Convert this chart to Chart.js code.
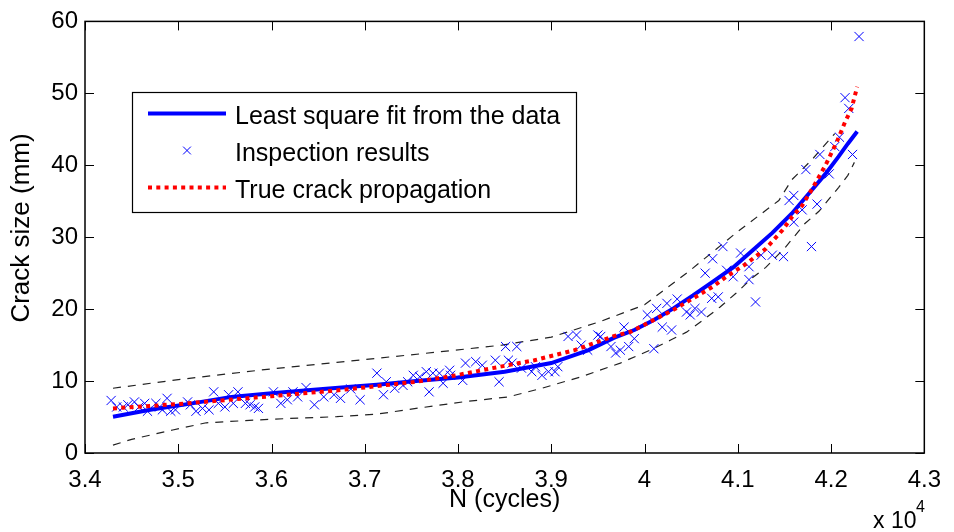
<!DOCTYPE html>
<html>
<head>
<meta charset="utf-8">
<title>Crack size vs cycles</title>
<script src="https://cdn.jsdelivr.net/npm/chart.js@4.4.0/dist/chart.umd.min.js"></script>
<style>
  html, body { margin: 0; padding: 0; background: #fff; }
</style>
</head>
<body>
<canvas id="crackChart" width="954" height="532"></canvas>
<script>
// N is given in units of 10^4 cycles, crack size in mm
const xTickValues = [3.4, 3.5, 3.6, 3.7, 3.8, 3.9, 4.0, 4.1, 4.2, 4.3];
const yTickValues = [0, 10, 20, 30, 40, 50, 60];

// least square fit
const fitN = [3.43, 3.47, 3.515, 3.557, 3.6, 3.642, 3.685, 3.713, 3.755, 3.8, 3.85, 3.9, 3.94, 3.967, 3.989,
              4.01, 4.031, 4.052, 4.073, 4.095, 4.116, 4.137, 4.158, 4.179, 4.194, 4.208, 4.218, 4.228];
const fitA = [5.05, 6.0, 6.9, 7.8, 8.3, 8.75, 9.2, 9.5, 10.0, 10.5, 11.3, 12.5, 14.3, 16.0, 17.1,
              18.5, 20.1, 21.9, 23.8, 25.8, 28.2, 30.6, 33.3, 36.5, 38.8, 41.2, 43.0, 44.7];

// true crack propagation
const trueN = [3.43, 3.5, 3.6, 3.674, 3.713, 3.755, 3.798, 3.837, 3.882, 3.925, 3.967, 3.985, 4.013, 4.031,
               4.052, 4.073, 4.0875, 4.109, 4.13, 4.148, 4.158, 4.169, 4.181, 4.194, 4.206, 4.215, 4.222, 4.228];
const trueA = [6.2, 6.8, 7.9, 8.75, 9.3, 9.9, 10.8, 11.8, 12.9, 14.3, 16.25, 16.85, 18.7, 19.9,
               21.5, 23.1, 24.5, 26.3, 28.4, 31.0, 32.8, 34.4, 37.0, 40.0, 43.2, 46.0, 47.9, 50.9];

// bounds (dashed)
const upperN = [3.43, 3.5, 3.6, 3.67, 3.776, 3.847, 3.9, 3.953, 4.0, 4.05, 4.1, 4.144, 4.158, 4.179, 4.204];
const upperA = [9.0, 10.2, 11.7, 12.6, 14.0, 15.0, 16.1, 18.3, 20.6, 25.5, 30.8, 35.1, 38.0, 40.7, 44.4];
const lowerN = [3.43, 3.45, 3.494, 3.53, 3.6, 3.67, 3.713, 3.755, 3.805, 3.854, 3.89, 3.932, 3.974, 4.006,
                4.028, 4.045, 4.063, 4.081, 4.098, 4.116, 4.13, 4.151, 4.172, 4.187, 4.208, 4.218, 4.225];
const lowerA = [1.1, 1.9, 3.2, 4.2, 4.7, 5.05, 5.4, 6.2, 7.1, 7.8, 9.0, 10.6, 12.5, 14.3,
                15.7, 16.8, 18.5, 20.3, 22.2, 24.4, 25.8, 28.6, 31.9, 33.6, 36.9, 38.6, 40.4];

// inspection results
const inspN = [3.428, 3.434, 3.441, 3.446, 3.453, 3.458, 3.464, 3.467, 3.476, 3.480, 3.483, 3.488, 3.492, 3.497,
               3.510, 3.513, 3.519, 3.526, 3.533, 3.538, 3.543, 3.550, 3.554, 3.559, 3.564, 3.572, 3.577, 3.582,
               3.586, 3.602, 3.610, 3.617, 3.623, 3.628, 3.637, 3.646, 3.656, 3.667, 3.674, 3.685, 3.695, 3.713,
               3.720, 3.723, 3.732, 3.741, 3.746, 3.752, 3.759, 3.766, 3.769, 3.773, 3.780, 3.784, 3.791, 3.792,
               3.805, 3.808, 3.819, 3.826, 3.840, 3.844, 3.851, 3.854, 3.858, 3.863, 3.868, 3.879, 3.883, 3.890,
               3.897, 3.904, 3.907, 3.918, 3.927, 3.932, 3.939, 3.950, 3.953, 3.964, 3.969, 3.974, 3.978, 3.983,
               3.989, 4.003, 4.010, 4.013, 4.019, 4.024, 4.029, 4.035, 4.045, 4.049, 4.054, 4.061, 4.065, 4.072,
               4.073, 4.079, 4.084, 4.088, 4.095, 4.103, 4.112, 4.112, 4.119, 4.125, 4.137, 4.149, 4.155, 4.160,
               4.169, 4.160, 4.179, 4.185, 4.230, 4.215, 4.219, 4.209, 4.204, 4.188, 4.223, 4.173, 4.198];
const inspA = [7.3, 6.4, 6.4, 6.7, 7.1, 6.4, 6.9, 5.8, 6.9, 6.4, 6.0, 7.6, 5.8, 6.0,
               7.1, 6.7, 5.8, 6.2, 6.0, 8.5, 6.9, 6.4, 8.1, 6.9, 8.5, 6.9, 6.7, 6.4,
               6.2, 8.5, 6.9, 7.4, 8.5, 7.8, 9.1, 6.7, 7.8, 8.1, 7.6, 8.9, 7.4, 11.1,
               8.1, 9.9, 9.0, 9.4, 9.9, 10.8, 10.6, 11.3, 8.5, 11.1, 11.1, 9.7, 11.5, 10.8,
               10.1, 12.5, 12.7, 12.2, 12.9, 9.9, 14.8, 12.9, 12.5, 14.8, 11.8, 11.3, 12.0, 10.8,
               11.3, 11.3, 12.0, 16.2, 16.4, 15.0, 14.3, 16.4, 16.2, 14.8, 13.9, 14.3, 17.5, 14.8,
               15.9, 19.2, 14.5, 20.1, 17.5, 20.8, 17.1, 21.4, 19.6, 19.2, 20.1, 19.6, 25.0, 21.5,
               27.0, 21.7, 28.7, 25.4, 24.5, 27.8, 24.1, 25.9, 21.0, 27.5, 27.5, 27.3, 35.1, 35.8,
               33.8, 32.1, 28.7, 34.6, 57.9, 49.4, 47.9, 43.9, 42.6, 41.5, 41.5, 39.4, 38.8];

const FONT = '"Liberation Sans", Arial, Helvetica, sans-serif';

const toPoints = (xs, ys) => xs.map((x, i) => ({ x: x, y: ys[i] }));

// axes box with inward ticks, legend box, y title and the "x 10^4" exponent
const matlabFrame = {
    id: 'matlabFrame',
    afterDatasetsDraw(chart) {
        const { ctx, chartArea: a, scales } = chart;
        ctx.save();
        ctx.strokeStyle = '#000';
        ctx.lineWidth = 1;
        ctx.beginPath();
        scales.x.ticks.forEach(t => {
            const px = Math.round(scales.x.getPixelForValue(t.value)) + 0.5;
            ctx.moveTo(px, a.bottom); ctx.lineTo(px, a.bottom - 9);
            ctx.moveTo(px, a.top); ctx.lineTo(px, a.top + 9);
        });
        scales.y.ticks.forEach(t => {
            const py = Math.round(scales.y.getPixelForValue(t.value)) + 0.5;
            ctx.moveTo(a.left, py); ctx.lineTo(a.left + 9, py);
            ctx.moveTo(a.right, py); ctx.lineTo(a.right - 9, py);
        });
        ctx.stroke();
        ctx.lineWidth = 1.5;
        ctx.strokeRect(a.left, a.top, a.right - a.left, a.bottom - a.top);

        // legend
        const ds = chart.data.datasets;
        const entries = [ds[2], ds[1], ds[0]];
        const bx = 132, by = 92, bw = 444, bh = 120;
        ctx.fillStyle = '#fff';
        ctx.fillRect(bx, by, bw, bh);
        ctx.lineWidth = 1.2;
        ctx.strokeRect(bx + 0.5, by + 0.5, bw, bh);
        const rowY = [113.5, 150.5, 187.5];
        entries.forEach((d, i) => {
            const y = rowY[i];
            if (d.showLine) {
                ctx.save();
                ctx.strokeStyle = d.borderColor;
                ctx.lineWidth = d.borderWidth;
                ctx.setLineDash(d.borderDash || []);
                ctx.beginPath();
                ctx.moveTo(148, y);
                ctx.lineTo(226, y);
                ctx.stroke();
                ctx.restore();
            } else {
                ctx.save();
                ctx.strokeStyle = d.borderColor;
                ctx.lineWidth = 1;
                Chart.helpers.drawPoint(ctx, { pointStyle: 'crossRot', radius: 5.5, borderWidth: 1 }, 187, y);
                ctx.restore();
            }
            ctx.fillStyle = '#000';
            ctx.font = '25px ' + FONT;
            ctx.textAlign = 'left';
            ctx.textBaseline = 'alphabetic';
            ctx.fillText(d.label, 235, y + 10.5);
        });

        // y axis title, sits a little above the middle of the axis
        ctx.save();
        ctx.translate(22, 228);
        ctx.rotate(-Math.PI / 2);
        ctx.font = '26px ' + FONT;
        ctx.textAlign = 'center';
        ctx.textBaseline = 'middle';
        ctx.fillStyle = '#000';
        ctx.fillText('Crack size (mm)', 0, 0);
        ctx.restore();

        // exponent of the x axis
        ctx.fillStyle = '#000';
        ctx.textAlign = 'left';
        ctx.textBaseline = 'alphabetic';
        ctx.font = '23px ' + FONT;
        ctx.fillText('x 10', 873, 528);
        ctx.font = '16px ' + FONT;
        ctx.fillText('4', 916, 512);
        ctx.restore();
    }
};

const ctx = document.getElementById('crackChart').getContext('2d');

const crackChart = new Chart(ctx, {
    type: 'scatter',
    data: {
        datasets: [
            {
                label: 'True crack propagation',
                data: toPoints(trueN, trueA),
                showLine: true,
                borderColor: '#ff0000',
                borderWidth: 4,
                borderDash: [4, 4.3],
                pointRadius: 0,
                order: 1
            },
            {
                label: 'Inspection results',
                data: toPoints(inspN, inspA),
                showLine: false,
                pointStyle: 'crossRot',
                pointRadius: 6.5,
                pointBorderWidth: 1,
                borderColor: '#0000ff',
                pointBorderColor: '#0000ff',
                order: 2
            },
            {
                label: 'Least square fit from the data',
                data: toPoints(fitN, fitA),
                showLine: true,
                borderColor: '#0000ff',
                borderWidth: 4,
                pointRadius: 0,
                order: 3
            },
            {
                label: 'upper',
                data: toPoints(upperN, upperA),
                showLine: true,
                borderColor: '#222',
                borderWidth: 1.2,
                borderDash: [8, 7],
                pointRadius: 0,
                order: 4
            },
            {
                label: 'lower',
                data: toPoints(lowerN, lowerA),
                showLine: true,
                borderColor: '#222',
                borderWidth: 1.2,
                borderDash: [8, 7],
                pointRadius: 0,
                order: 4
            }
        ]
    },
    options: {
        responsive: false,
        animation: false,
        layout: { padding: { top: 21, right: 20, left: 0, bottom: 0 } },
        plugins: {
            legend: { display: false },
            tooltip: { enabled: false }
        },
        scales: {
            x: {
                type: 'linear',
                min: 3.4,
                max: 4.3,
                afterBuildTicks: scale => { scale.ticks = xTickValues.map(v => ({ value: v })); },
                afterFit: scale => { scale.height = 79; },
                grid: { display: false, drawTicks: false },
                border: { display: false },
                ticks: {
                    color: '#000',
                    padding: 13,
                    maxRotation: 0,
                    autoSkip: false,
                    font: { family: FONT, size: 24 },
                    callback: v => String(+v.toFixed(1))
                },
                title: {
                    display: true,
                    text: 'N (cycles)',
                    color: '#000',
                    font: { family: FONT, size: 25 },
                    padding: { top: 0, bottom: 17 }
                }
            },
            y: {
                min: 0,
                max: 60,
                afterBuildTicks: scale => { scale.ticks = yTickValues.map(v => ({ value: v })); },
                afterFit: scale => { scale.width = 85; },
                grid: { display: false, drawTicks: false },
                border: { display: false },
                ticks: {
                    color: '#000',
                    padding: 7,
                    font: { family: FONT, size: 24 }
                }
            }
        }
    },
    plugins: [matlabFrame]
});
</script>
</body>
</html>
